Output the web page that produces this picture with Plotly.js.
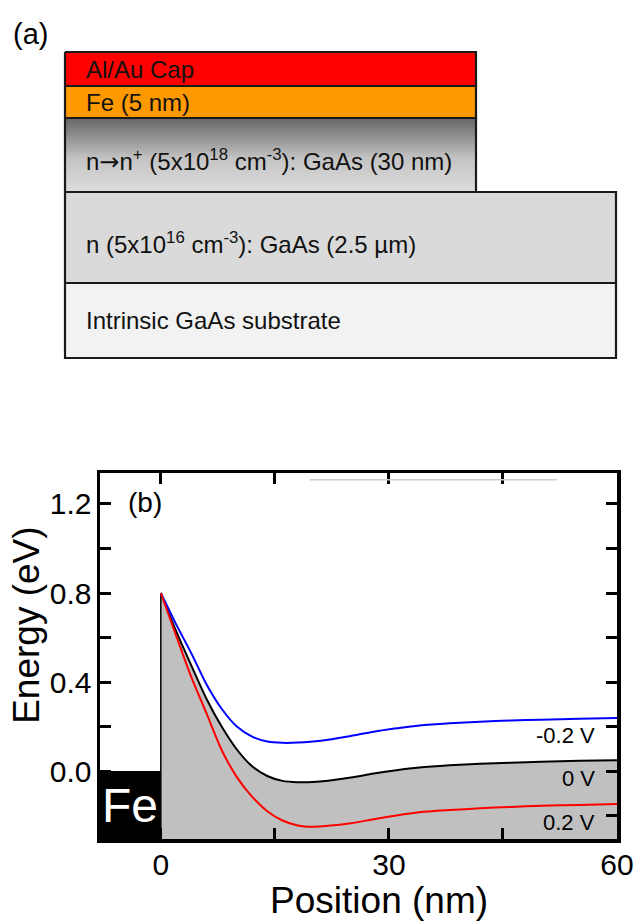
<!DOCTYPE html>
<html>
<head>
<meta charset="utf-8">
<script src="https://cdn.plot.ly/plotly-3.0.1.min.js"></script>
<style>html,body{margin:0;padding:0;background:#fff;}</style>
</head>
<body>
<div id="chart" style="width:637px;height:921px;"></div>
<script>
// ---------- Panel (a): layer stack (diagram units) ----------
const layerNames = [
  'Al/Au Cap',
  'Fe (5 nm)',
  'n<span style="font-family:DejaVu Sans">\u2192</span>n<sup>+</sup> (5x10<sup>18</sup> cm<sup>-3</sup>): GaAs (30 nm)',
  'n (5x10<sup>16</sup> cm<sup>-3</sup>): GaAs (2.5 \u00b5m)',
  'Intrinsic GaAs substrate'
];
const layerLeft   = [65, 65, 65, 65, 65];
const layerRight  = [476, 476, 476, 616, 616];
const layerTop    = [52, 86, 118, 192, 283];
const layerBottom = [86, 118, 192, 283, 358];

// ---------- Panel (b): band profiles ----------
const position = [0, 2, 4, 6, 8, 10, 12, 14, 16, 18, 20, 22, 25, 28, 31, 34, 38, 42, 46, 50, 55, 60];
const energyMinus02V = [0.80, 0.66, 0.53, 0.39, 0.28, 0.20, 0.155, 0.133, 0.127, 0.128, 0.133, 0.141, 0.158, 0.177, 0.192, 0.205, 0.215, 0.222, 0.227, 0.231, 0.235, 0.239];
const energy0V       = [0.80, 0.63, 0.475, 0.325, 0.20, 0.097, 0.022, -0.022, -0.044, -0.050, -0.049, -0.043, -0.029, -0.011, 0.004, 0.016, 0.026, 0.033, 0.038, 0.042, 0.046, 0.049];
const energyPlus02V  = [0.80, 0.61, 0.423, 0.26, 0.095, -0.027, -0.115, -0.180, -0.222, -0.244, -0.250, -0.246, -0.234, -0.216, -0.199, -0.185, -0.175, -0.167, -0.161, -0.156, -0.152, -0.148];
const biasLabels = ['-0.2 V', '0 V', '0.2 V'];
const feRegion = [-8, 0];          // metal region (nm)
const xTickVals = [0, 15, 30, 45, 60];
const xTickText = ['0', '', '30', '', '60'];
const yTickVals = [-0.2, 0, 0.2, 0.4, 0.6, 0.8, 1.0, 1.2];
const yTickText = ['', '0.0', '', '0.4', '', '0.8', '', '1.2'];

// ---------- styles ----------
const FONT = 'Liberation Sans, Arial, Helvetica, sans-serif';
const layerFill = ['#ff0000', '#ff9900', null, '#dadada', '#f2f2f2'];
const W = 637, H = 921;
const xRange = [-8, 60], yRange = [-0.305, 1.339];
const yFloor = yRange[0] - 0.1;
const px = v => v / W, py = v => 1 - v / H;

const traces = [];
const annotations = [];

// Panel (a) layers
layerNames.forEach((name, i) => {
  const L = layerLeft[i], R = layerRight[i], T = layerTop[i], B = layerBottom[i];
  const tr = {
    type: 'scatter', mode: 'lines', xaxis: 'x2', yaxis: 'y2',
    x: [L, R, R, L, L], y: [T, T, B, B, T],
    fill: 'toself', line: {color: '#1a1a1a', width: 2.2},
    hoverinfo: 'skip', showlegend: false
  };
  if (layerFill[i]) tr.fillcolor = layerFill[i];
  else tr.fillgradient = {type: 'vertical', start: T, stop: B,
    colorscale: [[0, '#656565'], [0.55, '#c4c4c4'], [1, '#dcdcdc']]};
  traces.push(tr);
  annotations.push({xref: 'x2', yref: 'y2', x: L + 19, y: (T + B) / 2,
    xanchor: 'left', yanchor: 'middle', yshift: name.indexOf('<sup>') >= 0 ? -5 : 0,
    text: name, showarrow: false,
    font: {family: FONT, size: 24, color: '#111'}});
});

// Panel (b): Fe block
traces.push({type: 'scatter', mode: 'lines', x: [feRegion[0], feRegion[1], feRegion[1], feRegion[0], feRegion[0]],
  y: [yFloor, yFloor, 0, 0, yFloor],
  fill: 'toself', fillcolor: '#000', line: {width: 0, color: '#000'}, hoverinfo: 'skip', showlegend: false});
// baseline for the semiconductor fill
traces.push({type: 'scatter', mode: 'lines', x: [position[0], position[position.length - 1]], y: [yFloor, yFloor],
  line: {width: 0, color: '#c0c0c0'}, hoverinfo: 'skip', showlegend: false});
// 0 V band with gray semiconductor fill below it
traces.push({type: 'scatter', mode: 'lines', x: position, y: energy0V, name: biasLabels[1],
  fill: 'tonexty', fillcolor: '#c0c0c0',
  line: {color: '#000', width: 2, shape: 'spline', smoothing: 0.8}, showlegend: false});
// interface edge
traces.push({type: 'scatter', mode: 'lines', x: [position[0], position[0]], y: [yFloor, energy0V[0]],
  line: {color: '#000', width: 1.5}, hoverinfo: 'skip', showlegend: false});
traces.push({type: 'scatter', mode: 'lines', x: position, y: energyMinus02V, name: biasLabels[0],
  line: {color: '#0000ff', width: 2, shape: 'spline', smoothing: 0.8}, showlegend: false});
traces.push({type: 'scatter', mode: 'lines', x: position, y: energyPlus02V, name: biasLabels[2],
  line: {color: '#ff0000', width: 2, shape: 'spline', smoothing: 0.8}, showlegend: false});

const series = [energyMinus02V, energy0V, energyPlus02V];
series.forEach((s, i) => {
  annotations.push({x: position[position.length - 1], y: s[s.length - 1], xref: 'x', yref: 'y',
    xanchor: 'right', yanchor: 'middle', xshift: -20, yshift: -18, showarrow: false,
    text: biasLabels[i], font: {family: FONT, size: 22, color: '#000'}});
});

annotations.push({x: (feRegion[0] + feRegion[1]) / 2, y: yRange[0] / 2, xref: 'x', yref: 'y',
  xanchor: 'center', yanchor: 'middle',
  text: 'Fe', showarrow: false, font: {family: FONT, size: 48, color: '#fff'}});
annotations.push({x: -2.1, y: 1.206, xref: 'x', yref: 'y', xanchor: 'center', yanchor: 'middle',
  text: '(b)', showarrow: false, font: {family: FONT, size: 28, color: '#000'}});
annotations.push({x: px(30), y: py(34), xref: 'paper', yref: 'paper', xanchor: 'center', yanchor: 'middle',
  text: '(a)', showarrow: false, font: {family: FONT, size: 29, color: '#000'}});

const layout = {
  width: W, height: H,
  margin: {l: 0, r: 0, t: 0, b: 0},
  paper_bgcolor: '#fff', plot_bgcolor: '#fff',
  showlegend: false,
  xaxis: {domain: [px(100), px(617)], range: xRange, anchor: 'y',
    tickvals: xTickVals, ticktext: xTickText, ticks: 'inside', ticklen: 11, tickwidth: 3, tickcolor: '#000',
    showline: true, linewidth: 3.5, linecolor: '#000', mirror: 'ticks',
    showgrid: false, zeroline: false, ticklabelstandoff: -4,
    tickfont: {family: FONT, size: 30, color: '#000'},
    title: {text: '\u200b\u00a0\u00a0\u00a0\u00a0Position (nm)', font: {family: FONT, size: 37, color: '#000'}, standoff: 2}},
  yaxis: {domain: [py(839), py(473)], range: yRange, anchor: 'x',
    tickvals: yTickVals, ticktext: yTickText, ticks: 'inside', ticklen: 11, tickwidth: 3, tickcolor: '#000',
    showline: true, linewidth: 3.5, linecolor: '#000', mirror: 'ticks',
    showgrid: false, zeroline: false, ticklabelstandoff: -1,
    tickfont: {family: FONT, size: 30, color: '#000'},
    title: {text: '\u200b\u00a0\u00a0\u00a0\u00a0\u00a0\u00a0Energy (eV)', font: {family: FONT, size: 37, color: '#000'}, standoff: 0}},
  xaxis2: {domain: [0, 1], range: [0, W], anchor: 'y2', visible: false, fixedrange: true},
  yaxis2: {domain: [py(380), 1], range: [380, 0], anchor: 'x2', visible: false, fixedrange: true},
  annotations: annotations,
  shapes: [{type: 'line', xref: 'x', yref: 'y', x0: 19.6, x1: 52.1, y0: 1.309, y1: 1.309,
    line: {color: '#cccccc', width: 1.5}}]
};

Plotly.newPlot('chart', traces, layout, {staticPlot: true, displayModeBar: false});
</script>
</body>
</html>
